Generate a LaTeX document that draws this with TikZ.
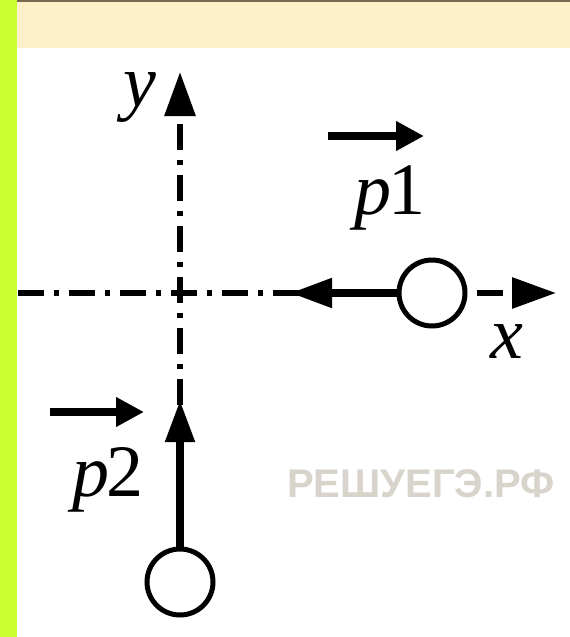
\documentclass[tikz,border=0pt]{standalone}
\usepackage{fontspec}
\setmainfont{Liberation Serif}
\newfontfamily\markfont{Liberation Sans}
\usetikzlibrary{arrows.meta, positioning}

\definecolor{limestrip}{HTML}{CCFF33}
\definecolor{bandfill}{HTML}{FDF0C9}
\definecolor{bandline}{HTML}{7A6A50}
\definecolor{markgray}{HTML}{D8D4CC}

\begin{document}
\begin{tikzpicture}[
    x=1pt, y=-1pt,
    axis/.style={line width=6pt, dash pattern=on 26pt off 10pt on 5pt off 10pt, -{Triangle[length=44pt, width=30pt]}},
    ball/.style={circle, draw, line width=5pt, minimum size=66pt, inner sep=0pt, fill=white},
    kick/.style={line width=8pt, -{Triangle[length=42pt, width=28pt]}},
    vecbar/.style={line width=8pt, -{Triangle[length=28pt, width=28pt]}},
    lbl/.style={font=\fontsize{74}{74}\selectfont, inner sep=0pt}
]
\useasboundingbox (0,0) rectangle (570,637);

% frame of the task card
\fill[white] (0,0) rectangle (570,637);
\fill[limestrip] (0,0) rectangle (17,637);
\fill[bandfill] (17,2) rectangle (570,48);
\fill[bandline] (17,0) rectangle (570,2);

% axes
\coordinate (xstart) at (18,293);
\coordinate (xend) at (556,293);
\coordinate (ybot) at (180,405);
\coordinate (ytop) at (180,72);
\draw[axis] (xstart) -- (xend);
\draw[axis] (ybot) -- (ytop);
\node[lbl, font=\fontsize{74}{74}\selectfont\itshape] (ylabel) at (140,98) {y};
\node[lbl, font=\fontsize{74}{74}\selectfont\itshape] (xlabel) at (507,342) {x};

% balls and their momenta
\node[ball] (ball1) at (432,293) {};
\node[ball] (ball2) at (180,582) {};
\coordinate (tip1) at (290,293);
\coordinate (tip2) at (180,400);
\draw[kick] (ball1.west) -- (tip1);
\draw[kick] (ball2.north) -- (tip2);

% momentum labels
\coordinate (bar1a) at (328,136);
\coordinate (bar1b) at (424,136);
\coordinate (bar2a) at (50,412);
\coordinate (bar2b) at (144,412);
\draw[vecbar] (bar1a) -- (bar1b);
\draw[vecbar] (bar2a) -- (bar2b);
\node[lbl] (p1) at (390,198) {\itshape p\kern-3pt\upshape 1};
\node[lbl] (p2) at (108,480) {\itshape p\kern-3pt\upshape 2};

% watermark
\node[markgray, font=\markfont\bfseries\fontsize{40}{40}\selectfont] (mark) at (421,484) {РЕШУЕГЭ.РФ};

\end{tikzpicture}
\end{document}
